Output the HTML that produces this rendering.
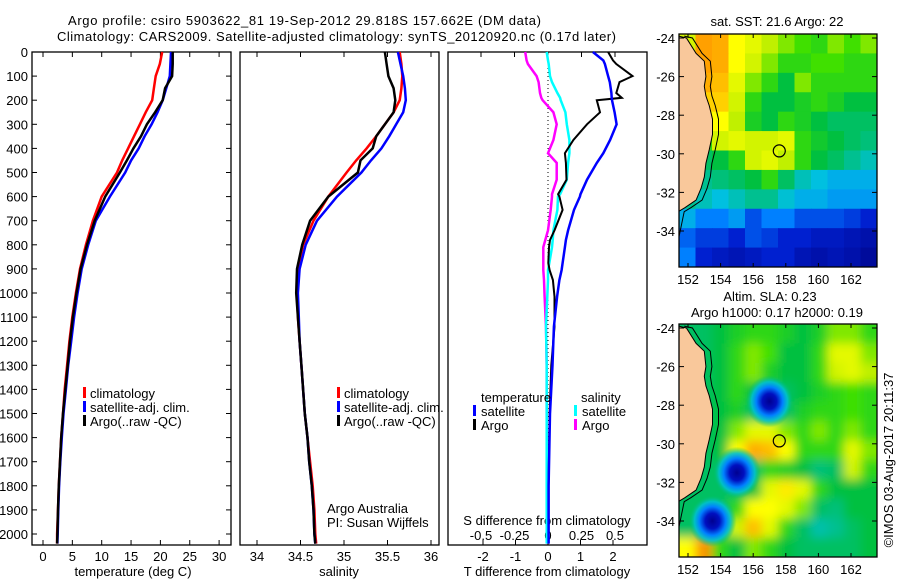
<!DOCTYPE html>
<html><head><meta charset="utf-8"><style>
html,body{margin:0;padding:0;background:#fff;}
svg{display:block;font-family:"Liberation Sans",sans-serif;}
text{fill:#000;font-size:13px;}
</style></head><body>
<svg id="svg" width="900" height="580" viewBox="0 0 900 580" xmlns="http://www.w3.org/2000/svg">
<defs>
<filter id="blur" x="-10%" y="-10%" width="120%" height="120%"><feGaussianBlur stdDeviation="5"/></filter>
<clipPath id="clip1"><rect x="679" y="34" width="198" height="233"/></clipPath>
<clipPath id="clip2"><rect x="679" y="324" width="198" height="233"/></clipPath>
<radialGradient id="eddyGrad">
<stop offset="0" stop-color="#000090"/>
<stop offset="0.3" stop-color="#0010c0"/>
<stop offset="0.55" stop-color="#0080ff"/>
<stop offset="0.75" stop-color="#00c0d0" stop-opacity="0.9"/>
<stop offset="1" stop-color="#00c060" stop-opacity="0"/>
</radialGradient>
</defs>
<text x="68" y="25" textLength="473">Argo profile: csiro 5903622_81 19-Sep-2012 29.818S 157.662E (DM data)</text>
<text x="57" y="41" textLength="559">Climatology: CARS2009. Satellite-adjusted climatology: synTS_20120920.nc (0.17d later)</text>
<g id="g"></g>
</svg>
<script>
// ---- data ----
const depths = [0,50,100,150,200,250,300,350,400,450,500,600,700,800,900,1000,1100,1200,1300,1400,1500,1600,1700,1800,1900,2000,2040];
const tempClim = [20.3,19.9,19.2,18.9,18.6,17.5,16.5,15.5,14.5,13.5,12.6,10.0,8.5,7.3,6.3,5.6,5.0,4.5,4.1,3.7,3.4,3.1,2.9,2.7,2.55,2.4,2.4];
const tempSat = [21.8,21.7,21.6,21.0,20.4,19.5,18.5,17.3,16.3,15.0,14.0,11.4,9.0,7.7,6.6,5.9,5.3,4.8,4.3,3.9,3.5,3.2,2.95,2.75,2.6,2.5,2.45];
const tempArgo = [22.1,22.1,22.0,20.8,20.4,19.1,17.7,16.7,15.4,14.3,13.1,10.6,8.8,7.5,6.4,5.7,5.1,4.6,4.2,3.8,3.4,3.1,2.9,2.7,2.55,2.45,2.4];
const salClim = [35.64,35.66,35.67,35.66,35.64,35.57,35.47,35.37,35.26,35.14,35.03,34.82,34.65,34.53,34.47,34.46,34.47,34.49,34.51,34.53,34.55,34.58,34.61,34.64,34.66,34.67,34.68];
const salSat = [35.62,35.65,35.68,35.70,35.71,35.68,35.60,35.52,35.43,35.31,35.20,34.92,34.69,34.56,34.49,34.47,34.48,34.49,34.51,34.53,34.55,34.58,34.60,34.63,34.65,34.66,34.67];
const salArgo = [35.47,35.49,35.51,35.57,35.59,35.57,35.47,35.37,35.33,35.19,35.16,34.82,34.61,34.52,34.46,34.45,34.47,34.49,34.51,34.53,34.55,34.58,34.60,34.63,34.65,34.66,34.67];
const dDepths = [0,35,50,100,125,170,190,200,250,300,365,420,460,530,590,600,655,740,780,810,876,905,946,1015,1140,1300,1500,1800,2040];
const dTSat = [1.38,1.7,1.75,1.85,1.9,1.95,1.96,1.97,2.05,2.11,1.91,1.7,1.5,1.2,1.0,0.98,0.8,0.62,0.55,0.52,0.45,0.42,0.35,0.28,0.18,0.14,0.06,0.02,0.02];
const dTArgo = [1.85,2.0,2.1,2.6,2.2,2.1,2.27,1.5,1.6,1.2,0.78,0.52,0.55,0.57,0.31,0.35,0.45,0.2,0.06,0.03,0.01,0.05,0.15,0.2,0.2,0.1,0.05,0.02,0.02];
const dSSat = [-0.01,0.0,0.005,0.015,0.03,0.07,0.09,0.095,0.13,0.14,0.16,0.16,0.15,0.14,0.09,0.075,0.07,0.04,0.035,0.03,0.01,0.0,0.0,-0.005,-0.015,-0.01,-0.01,-0.01,-0.01];
const dSArgo = [-0.17,-0.16,-0.15,-0.085,-0.07,-0.06,-0.05,-0.04,0.04,0.065,0.04,0.0,0.065,0.065,0.03,0.03,0.02,0.0,-0.02,-0.035,-0.035,-0.035,-0.03,-0.025,-0.015,-0.01,-0.01,-0.005,-0.005];
const depthTicks = [0,100,200,300,400,500,600,700,800,900,1000,1100,1200,1300,1400,1500,1600,1700,1800,1900,2000];
const tempTicks = [0,5,10,15,20,25,30];
const salTicks = [34,34.5,35,35.5,36];
const dTTicks = [-2,-1,0,1,2];
const dSTicks = [-0.5,-0.25,0,0.25,0.5];
const dSTickLabels = ["-0.5","-0.25","0","0.25","0.5"];
const latTicks = [-24,-26,-28,-30,-32,-34];
const lonTicks = [152,154,156,158,160,162];
const sstGrid = [
[-1,.8,.78,.65,.62,.58,.55,.52,.5,.55,.52,.55],
[-1,.8,.78,.65,.6,.55,.5,.5,.52,.52,.5,.5],
[-1,.78,.75,.62,.55,.5,.45,.55,.5,.5,.5,.5],
[-1,.72,.72,.6,.5,.45,.45,.48,.5,.48,.45,.45],
[-1,.62,.65,.58,.48,.45,.5,.48,.45,.42,.42,.42],
[.45,.5,.6,.62,.6,.6,.62,.5,.47,.45,.42,.4],
[.42,.42,.45,.5,.6,.62,.58,.5,.45,.42,.38,.35],
[.4,.38,.4,.42,.45,.5,.42,.35,.32,.3,.3,.3],
[.38,.35,.32,.35,.38,.38,.33,.3,.3,.28,.28,.28],
[.3,.25,.25,.28,.2,.25,.25,.2,.2,.2,.18,.15],
[.22,.18,.18,.15,.2,.18,.15,.15,.12,.12,.1,.08],
[.25,.15,.12,.1,.12,.15,.15,.1,.08,.1,.08,.05]];
const slaGrid = [
[.42,.42,.45,.48,.5,.5,.48,.45,.48,.55,.55,.5],
[.42,.42,.45,.5,.55,.52,.45,.45,.5,.62,.62,.55],
[.42,.42,.45,.5,.55,.48,.45,.45,.5,.6,.62,.58],
[.42,.42,.45,.5,.45,.42,.42,.45,.48,.5,.52,.5],
[.42,.42,.45,.48,.42,.42,.42,.48,.5,.5,.52,.5],
[.42,.42,.45,.55,.62,.62,.55,.5,.55,.5,.55,.5],
[.42,.42,.45,.65,.78,.75,.65,.5,.5,.5,.62,.55],
[.42,.42,.42,.42,.42,.5,.48,.45,.4,.42,.6,.5],
[.42,.42,.42,.42,.45,.62,.68,.62,.5,.45,.45,.45],
[.42,.42,.42,.5,.65,.65,.62,.55,.42,.4,.45,.45],
[.42,.42,.42,.6,.75,.62,.5,.42,.36,.38,.42,.45],
[.65,.82,.5,.45,.55,.5,.45,.42,.42,.42,.42,.45]];
const eddyLon = [157.0,155.0,153.5];
const eddyLat = [-27.8,-31.5,-34.0];
const coastLon = [151.4,151.9,152.5,153.0,153.1,153.0,153.1,153.3,153.5,153.5,153.3,153.1,153.0,152.8,152.5,151.8,151.4];
const coastLat = [-23.9,-24.0,-24.8,-25.2,-26.0,-26.5,-27.0,-27.5,-28.2,-29.0,-29.8,-30.5,-31.2,-31.8,-32.4,-32.8,-33.0];
const argoLon = 157.6, argoLat = -29.85;

// ---- helpers ----
const NS="http://www.w3.org/2000/svg";
const G=document.getElementById('g');
function mk(tag,attrs,parent){const e=document.createElementNS(NS,tag);for(const k in attrs)e.setAttribute(k,attrs[k]);(parent||G).appendChild(e);return e;}
const TOP=52, BOT=545;
const yD = d => 52 + d*0.241;
const xT = t => 43 + t*5.87;
const xS = s => 257 + (s-34)*87;
const xDT = t => 548 + t*32.5;
const xDS = s => 548 + s*134;
const lonX = l => 688 + (l-152)*16.3;
const latY = la => 38 + (-24-la)*19.3;

function panel(x0,x1,name){
  const r=mk('rect',{x:x0,y:TOP,width:x1-x0,height:BOT-TOP,fill:'none',stroke:'#000','stroke-width':1.3});
  
  
}
panel(32,231,'temperature-panel');
panel(240,439,'salinity-panel');
panel(448,647,'difference-panel');

function line(xs,ys,color,w,name,xf,yf){
  const pts=xs.map((v,i)=>xf(v).toFixed(1)+','+yf(ys[i]).toFixed(1)).join(' ');
  const p=mk('polyline',{points:pts,fill:'none',stroke:color,'stroke-width':w,'stroke-linejoin':'miter'});
  
  
}
function txt(x,y,s,name,anchor,size){
  const t=mk('text',{x:x,y:y,'text-anchor':anchor||'start'});
  if(size)t.style.fontSize=size+'px';
  t.textContent=s;
  
  
  return t;
}

// depth ticks & labels
depthTicks.forEach(d=>{
  const y=yD(d);
  mk('line',{x1:32,x2:37,y1:y,y2:y,stroke:'#000'});
  mk('line',{x1:226,x2:231,y1:y,y2:y,stroke:'#000'});
  txt(28,y+5,String(d),'depth-tick-label','end');
});
// temperature
tempTicks.forEach(t=>{const x=xT(t);mk('line',{x1:x,x2:x,y1:TOP,y2:TOP+5,stroke:'#000'});mk('line',{x1:x,x2:x,y1:BOT-5,y2:BOT,stroke:'#000'});txt(x,561,String(t),'temperature-tick-label','middle');});
txt(133,576,'temperature (deg C)','temperature-axis-title','middle');
line(tempClim,depths,'#f00',2.5,'temperature-climatology-line',xT,yD);
line(tempSat,depths,'#00f',2.5,'temperature-satellite-line',xT,yD);
line(tempArgo,depths,'#000',2.5,'temperature-argo-line',xT,yD);
// salinity
salTicks.forEach(s=>{const x=xS(s);mk('line',{x1:x,x2:x,y1:TOP,y2:TOP+5,stroke:'#000'});mk('line',{x1:x,x2:x,y1:BOT-5,y2:BOT,stroke:'#000'});txt(x,561,String(s),'salinity-tick-label','middle');});
txt(339,576,'salinity','salinity-axis-title','middle');
line(salClim,depths,'#f00',2.5,'salinity-climatology-line',xS,yD);
line(salSat,depths,'#00f',2.5,'salinity-satellite-line',xS,yD);
line(salArgo,depths,'#000',2.5,'salinity-argo-line',xS,yD);
// legends
function legend(x,name){
  [['#f00','climatology'],['#00f','satellite-adj. clim.'],['#000','Argo(..raw -QC)']].forEach((e,i)=>{
    const y=398+i*14;
    const r=mk('rect',{x:x,y:y-11,width:3,height:11,fill:e[0]});
    
    
    txt(x+7,y,e[1],name+'-label');
  });
}
legend(83,'temperature-legend');
legend(337,'salinity-legend');
txt(327,513,'Argo Australia','credit-line-1');
txt(327,527,'PI: Susan Wijffels','credit-line-2');
// difference panel
mk('line',{x1:548,x2:548,y1:TOP,y2:BOT,stroke:'#000','stroke-dasharray':'1,3'});
dTTicks.forEach(t=>{const x=xDT(t);mk('line',{x1:x,x2:x,y1:BOT-5,y2:BOT,stroke:'#000'});txt(x,561,String(t),'t-diff-tick-label','middle');});
dSTicks.forEach((s,i)=>{const x=xDS(s);mk('line',{x1:x,x2:x,y1:TOP,y2:TOP+5,stroke:'#000'});txt(x,540,dSTickLabels[i],'s-diff-tick-label','middle');});
txt(547,525,'S difference from climatology','s-diff-axis-title','middle');
txt(547,576,'T difference from climatology','t-diff-axis-title','middle');
line(dSArgo,dDepths,'#f0f',2.5,'salinity-argo-diff-line',xDS,yD);
line(dSSat,dDepths,'#0ff',2.5,'salinity-satellite-diff-line',xDS,yD);
line(dTArgo,dDepths,'#000',2,'temperature-argo-diff-line',xDT,yD);
line(dTSat,dDepths,'#00f',2.5,'temperature-satellite-diff-line',xDT,yD);
txt(481,402,'temperature','diff-legend-temperature-heading');
txt(581,402,'salinity','diff-legend-salinity-heading');
[['#00f',473,'satellite',416],['#000',473,'Argo',430],['#0ff',574,'satellite',416],['#f0f',574,'Argo',430]].forEach(e=>{
  const r=mk('rect',{x:e[1],y:e[3]-11,width:3,height:11,fill:e[0]});
  
  
  txt(e[1]+8,e[3],e[2],'diff-legend-label');
});

// ---- maps ----
const stops=[[0,[0,0,128]],[.15,[0,32,208]],[.25,[0,128,255]],[.32,[0,192,224]],[.38,[0,192,144]],[.45,[0,192,64]],[.52,[64,224,0]],[.58,[192,240,0]],[.65,[255,255,0]],[.72,[255,208,0]],[.8,[255,160,0]],[.9,[224,96,0]],[1,[200,80,0]]];
function cmap(v){
  for(let i=1;i<stops.length;i++){if(v<=stops[i][0]){const a=stops[i-1],b=stops[i],f=(v-a[0])/(b[0]-a[0]);const c=a[1].map((x,k)=>Math.round(x+(b[1][k]-x)*f));return 'rgb('+c.join(',')+')';}}
  return 'rgb(200,80,0)';
}
function map(grid,y0,clip,name,blur,eddies){
  const outer=mk('g',{'clip-path':'url(#'+clip+')'});
  
  
  const inner=mk('g',blur?{filter:'url(#blur)'}:{},outer);
  const cw=198/12,ch=233/12;
  grid.forEach((row,r)=>row.forEach((v,c)=>{
    let x=679+c*cw,y=y0+r*ch,w=cw+0.6,h=ch+0.6;
    if(blur){if(c==0){x-=15;w+=15;}if(c==11)w+=15;if(r==0){y-=15;h+=15;}if(r==11)h+=15;}
    const cell=mk('rect',{x:x,y:y,width:w,height:h,fill:cmap(v<0?0.6:v)},inner);
    
    
  }));
  const off=y0-34;
  if(eddies){
    eddyLon.forEach((l,i)=>{
      const e=mk('ellipse',{cx:lonX(l),cy:latY(eddyLat[i])+off,rx:24,ry:26,fill:'url(#eddyGrad)'},outer);
      
      
    });
  }
  const pts=coastLon.map((l,i)=>lonX(l).toFixed(1)+','+(latY(coastLat[i])+off).toFixed(1));
  const land=mk('polygon',{points:'675,'+(y0-5)+' '+pts.join(' ')+' 675,'+(latY(-33)+off),fill:'#f9c89b',stroke:'#000','stroke-width':1},outer);
  
  
  const iso=mk('polyline',{points:coastLon.map((l,i)=>(lonX(l)+6).toFixed(1)+','+(latY(coastLat[i])+off).toFixed(1)).join(' ')+' 679,'+(latY(-34.3)+off),fill:'none',stroke:'#000','stroke-width':1},outer);
  
  
  const fr=mk('rect',{x:679,y:y0,width:198,height:233,fill:'none',stroke:'#000','stroke-width':1.3});
  
  
  latTicks.forEach(la=>{const y=latY(la)+off;mk('line',{x1:679,x2:684,y1:y,y2:y,stroke:'#000'});mk('line',{x1:872,x2:877,y1:y,y2:y,stroke:'#000'});txt(675,y+5,String(la),'latitude-tick-label','end');});
  lonTicks.forEach(l=>{const x=lonX(l);mk('line',{x1:x,x2:x,y1:y0,y2:y0+4,stroke:'#000'});mk('line',{x1:x,x2:x,y1:y0+229,y2:y0+233,stroke:'#000'});txt(x,y0+250,String(l),'longitude-tick-label','middle');});
  const c=mk('circle',{cx:lonX(argoLon),cy:latY(argoLat)+off,r:6,fill:'none',stroke:'#000','stroke-width':1.2});
  
  
}
map(sstGrid,34,'clip1','sst-map',false,false);
map(slaGrid,324,'clip2','sla-map',true,true);
txt(777,26,'sat. SST: 21.6  Argo: 22','sst-map-title','middle');
txt(770,301,'Altim. SLA: 0.23','sla-map-title-1','middle');
txt(777,317,'Argo h1000: 0.17 h2000: 0.19','sla-map-title-2','middle');
const rt=txt(0,0,'©IMOS 03-Aug-2017 20:11:37','timestamp-label','middle');
rt.setAttribute('transform','translate(893,460) rotate(-90)');
</script>
</body></html>
